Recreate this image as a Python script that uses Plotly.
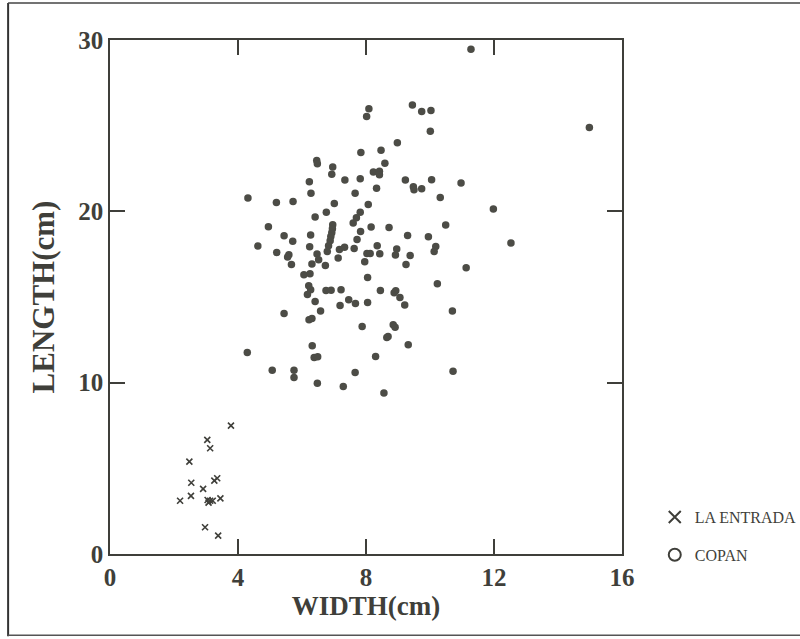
import plotly.graph_objects as go

# La Entrada (x markers)
la_entrada_width = [3.78, 3.04, 3.13, 2.48, 2.54, 3.26, 3.35, 2.91, 2.53, 2.19,
                    3.05, 3.13, 3.21, 3.08, 3.45, 2.97, 3.38]
la_entrada_length = [7.49, 6.66, 6.17, 5.39, 4.16, 4.28, 4.42, 3.80, 3.39, 3.11,
                     3.15, 3.11, 3.11, 3.00, 3.25, 1.56, 1.07]

# Copan (filled circles)
copan_width = [7.84, 6.46, 6.48, 6.96, 6.93, 7.34, 7.82, 6.23, 6.28, 7.66,
               4.31, 5.20, 5.72, 7.01, 8.07, 6.76, 7.82, 6.41, 7.70, 7.60,
               4.95, 6.96, 6.95, 6.93, 6.90, 6.88, 6.83, 6.79, 7.83, 5.44,
               6.27, 5.71, 7.72, 4.62, 6.24, 7.17, 7.33, 7.63, 5.21, 5.59,
               5.55, 6.47, 6.52, 7.13, 8.03, 7.96, 5.67, 6.31, 6.73, 6.06,
               6.25, 8.05, 6.21, 6.27, 6.17, 6.75, 6.91, 7.22, 6.41, 7.46,
               7.67, 8.05, 7.19, 5.44, 6.58, 6.22, 6.31, 7.88, 4.29, 6.32,
               6.38, 6.49, 5.07, 5.75, 5.75, 7.66, 6.48, 7.29, 8.09, 8.02,
               9.45, 9.74, 10.03, 10.01, 8.98, 8.47, 8.59, 8.23, 8.42, 8.42,
               8.33, 9.23, 9.48, 9.50, 9.74, 10.05, 10.97, 10.32, 8.16, 8.72,
               9.30, 9.95, 10.49, 8.35, 8.13, 8.43, 8.96, 8.92, 9.38, 9.25,
               10.18, 10.13, 11.13, 10.23, 8.45, 8.93, 8.88, 9.06, 9.21, 10.70,
               8.85, 8.91, 8.65, 8.69, 9.32, 8.30, 10.72, 8.56, 11.28, 14.98,
               11.98, 12.53]
copan_length = [23.44, 22.96, 22.78, 22.59, 22.16, 21.83, 21.90, 21.73, 21.05, 21.05,
                20.78, 20.52, 20.58, 20.46, 20.40, 19.94, 19.94, 19.67, 19.63, 19.32,
                19.10, 19.22, 18.98, 18.75, 18.53, 18.28, 17.99, 17.66, 18.83, 18.57,
                18.62, 18.26, 18.36, 17.97, 17.93, 17.77, 17.91, 17.83, 17.60, 17.46,
                17.33, 17.51, 17.17, 17.27, 17.54, 17.06, 16.90, 16.92, 16.84, 16.30,
                16.36, 16.14, 15.65, 15.42, 15.15, 15.38, 15.40, 15.42, 14.74, 14.84,
                14.62, 14.68, 14.50, 14.04, 14.19, 13.67, 13.74, 13.28, 11.76, 12.15,
                11.47, 11.51, 10.73, 10.73, 10.30, 10.59, 9.97, 9.77, 25.99, 25.54,
                26.21, 25.82, 25.89, 24.67, 24.01, 23.56, 22.80, 22.30, 22.34, 22.14,
                21.34, 21.83, 21.44, 21.26, 21.32, 21.85, 21.65, 20.81, 19.08, 19.06,
                18.59, 18.52, 19.20, 17.99, 17.54, 17.52, 17.80, 17.45, 17.42, 16.90,
                17.95, 17.66, 16.71, 15.77, 15.38, 15.36, 15.25, 14.97, 14.53, 14.18,
                13.38, 13.24, 12.63, 12.69, 12.21, 11.52, 10.67, 9.40, 29.46, 24.90,
                20.13, 18.15]

x_ticks = [0, 4, 8, 12, 16]
y_ticks = [0, 10, 20, 30]

ink = "#3f3f3a"
serif = "Liberation Serif, Times New Roman, serif"

fig = go.Figure()
fig.add_trace(go.Scatter(x=la_entrada_width, y=la_entrada_length, mode="markers",
                         marker=dict(symbol="x-thin", size=6, color=ink,
                                     line=dict(width=1.6, color=ink)),
                         showlegend=False))
fig.add_trace(go.Scatter(x=copan_width, y=copan_length, mode="markers",
                         marker=dict(symbol="circle", size=7.5, color="#4c4c46"),
                         showlegend=False))
# legend entries
fig.add_trace(go.Scatter(x=[None], y=[None], mode="markers", name="LA ENTRADA",
                         legendgroup="a",
                         marker=dict(symbol="x-thin", size=11, color=ink,
                                     line=dict(width=1.3, color=ink))))
fig.add_trace(go.Scatter(x=[None], y=[None], mode="markers", name="COPAN",
                         legendgroup="b",
                         marker=dict(symbol="circle-open", size=11, color=ink,
                                     line=dict(width=1.3, color=ink))))

axis_common = dict(showline=True, linecolor=ink, linewidth=1.5, mirror="ticks",
                   ticks="inside", ticklen=15, tickwidth=1.5, tickcolor=ink,
                   showgrid=False, zeroline=False,
                   tickfont=dict(family=serif, size=25, color=ink, weight="bold"))

fig.update_xaxes(range=[0, 16], tickvals=x_ticks, ticktext=[str(v) for v in x_ticks],
                 title=dict(text="WIDTH(cm)", font=dict(family=serif, size=27, color=ink,
                                                        weight="bold"),
                            standoff=2),
                 **axis_common)
fig.update_yaxes(range=[0, 30], tickvals=y_ticks, ticktext=[str(v) for v in y_ticks],
                 title=dict(text="LENGTH(cm)", font=dict(family=serif, size=31, color=ink,
                                                         weight="bold"),
                            standoff=14),
                 **axis_common)

fig.update_layout(
    width=800, height=639,
    margin=dict(l=110, r=178, t=40, b=85, autoexpand=False),
    plot_bgcolor="white", paper_bgcolor="white",
    legend=dict(x=1.064, y=0.105, xanchor="left", yanchor="top",
                font=dict(family=serif, size=16, color=ink),
                bgcolor="rgba(0,0,0,0)", itemsizing="constant", tracegroupgap=14,
                itemwidth=30),
    shapes=[
        dict(type="line", xref="paper", yref="paper", x0=-0.199, x1=-0.199, y0=-0.16, y1=1.072,
             line=dict(color="#333", width=2)),
        dict(type="line", xref="paper", yref="paper", x0=-0.199, x1=1.35, y0=1.072, y1=1.072,
             line=dict(color="#444", width=1.5)),
        dict(type="line", xref="paper", yref="paper", x0=-0.199, x1=1.35, y0=-0.158, y1=-0.158,
             line=dict(color="#555", width=1.5)),
    ],
)

fig.write_html("out.html")
